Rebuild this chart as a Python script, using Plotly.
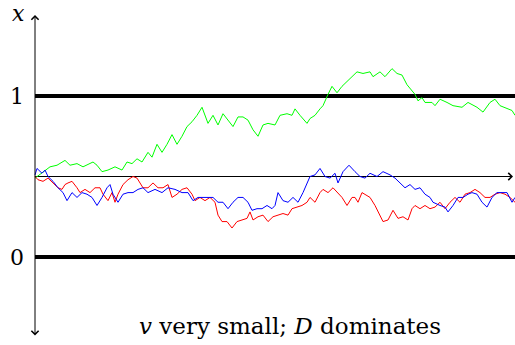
import plotly.graph_objects as go

# time steps and positions of three sample paths (v very small, diffusion dominates)
green_t = [0, 10, 15, 22, 30, 35, 42, 48, 58, 62, 67, 73, 80, 87, 92, 97, 102, 107, 113, 117,
           122, 127, 132, 137, 142, 147, 152, 157, 162, 167, 170, 173, 178, 183, 188, 193, 198,
           203, 208, 213, 218, 223, 228, 233, 240, 245, 252, 257, 260, 265, 270, 272, 275, 280,
           285, 288, 293, 297, 302, 307, 312, 318, 322, 328, 335, 338, 345, 350, 357, 362, 367,
           372, 375, 380, 383, 387, 390, 397, 400, 405, 412, 418, 427, 433, 442, 448, 455, 460,
           465, 472, 477, 480]
green_x = [0.49, 0.54, 0.56, 0.57, 0.60, 0.57, 0.58, 0.56, 0.59, 0.57, 0.53, 0.54, 0.56, 0.54,
           0.59, 0.58, 0.61, 0.59, 0.65, 0.62, 0.70, 0.65, 0.70, 0.76, 0.70, 0.75, 0.81, 0.84,
           0.88, 0.93, 0.88, 0.83, 0.88, 0.82, 0.89, 0.85, 0.81, 0.87, 0.87, 0.85, 0.79, 0.75,
           0.82, 0.83, 0.82, 0.88, 0.89, 0.88, 0.92, 0.88, 0.84, 0.83, 0.86, 0.88, 0.92, 0.94,
           1.01, 1.06, 1.02, 1.06, 1.09, 1.13, 1.15, 1.14, 1.15, 1.12, 1.15, 1.12, 1.17, 1.14,
           1.13, 1.07, 1.05, 1.01, 0.97, 0.99, 0.96, 0.96, 0.94, 0.98, 0.96, 0.94, 0.93, 0.96,
           0.93, 0.90, 0.96, 0.98, 0.94, 0.92, 0.91, 0.88]

blue_t = [0, 2, 7, 10, 13, 18, 23, 28, 32, 37, 42, 47, 52, 57, 62, 67, 72, 75, 78, 83, 88, 93,
          98, 103, 108, 113, 120, 127, 133, 140, 147, 153, 158, 163, 168, 173, 178, 183, 188,
          193, 198, 203, 208, 213, 217, 222, 227, 232, 237, 240, 243, 248, 253, 258, 263, 268,
          272, 275, 280, 285, 290, 295, 300, 303, 308, 314, 320, 325, 330, 335, 342, 348, 355,
          360, 365, 370, 375, 380, 385, 390, 395, 398, 405, 410, 413, 418, 423, 428, 433, 437,
          442, 447, 452, 457, 462, 467, 472, 477, 480]
blue_x = [0.51, 0.55, 0.52, 0.54, 0.50, 0.47, 0.43, 0.40, 0.35, 0.40, 0.37, 0.40, 0.39, 0.37,
          0.32, 0.37, 0.43, 0.45, 0.39, 0.34, 0.39, 0.40, 0.40, 0.42, 0.43, 0.40, 0.42, 0.40,
          0.43, 0.42, 0.40, 0.40, 0.35, 0.37, 0.37, 0.37, 0.37, 0.34, 0.34, 0.30, 0.34, 0.37,
          0.37, 0.34, 0.29, 0.30, 0.30, 0.32, 0.30, 0.32, 0.40, 0.35, 0.34, 0.37, 0.34, 0.40,
          0.46, 0.50, 0.51, 0.55, 0.50, 0.49, 0.52, 0.46, 0.53, 0.57, 0.53, 0.50, 0.49, 0.52,
          0.50, 0.53, 0.51, 0.49, 0.46, 0.43, 0.45, 0.42, 0.43, 0.39, 0.37, 0.34, 0.32, 0.31,
          0.28, 0.32, 0.37, 0.37, 0.39, 0.40, 0.39, 0.34, 0.31, 0.37, 0.40, 0.40, 0.40, 0.34,
          0.37]

red_t = [0, 3, 8, 13, 18, 23, 27, 30, 33, 37, 42, 45, 50, 55, 60, 65, 68, 73, 77, 80, 83, 88,
         93, 98, 102, 105, 108, 113, 118, 123, 128, 133, 137, 142, 147, 152, 157, 160, 165, 170,
         175, 180, 183, 187, 192, 197, 202, 207, 212, 215, 218, 223, 228, 233, 238, 243, 248,
         253, 257, 262, 267, 272, 275, 280, 285, 288, 293, 298, 303, 307, 312, 317, 320, 323,
         327, 330, 335, 340, 345, 348, 353, 358, 363, 368, 373, 377, 380, 385, 390, 395, 400,
         405, 410, 415, 420, 425, 430, 435, 440, 445, 450, 455, 460, 465, 470, 475, 480]
red_x = [0.50, 0.48, 0.47, 0.49, 0.46, 0.43, 0.42, 0.45, 0.46, 0.47, 0.43, 0.40, 0.42, 0.40,
         0.43, 0.43, 0.39, 0.35, 0.40, 0.34, 0.39, 0.45, 0.48, 0.50, 0.49, 0.46, 0.43, 0.43,
         0.46, 0.43, 0.43, 0.45, 0.37, 0.39, 0.42, 0.43, 0.39, 0.35, 0.37, 0.35, 0.37, 0.34,
         0.26, 0.22, 0.22, 0.18, 0.22, 0.23, 0.24, 0.28, 0.23, 0.25, 0.26, 0.22, 0.25, 0.26,
         0.27, 0.26, 0.30, 0.31, 0.32, 0.34, 0.37, 0.34, 0.40, 0.42, 0.40, 0.43, 0.40, 0.37,
         0.32, 0.37, 0.37, 0.34, 0.40, 0.39, 0.37, 0.32, 0.26, 0.22, 0.23, 0.29, 0.24, 0.25,
         0.23, 0.30, 0.32, 0.30, 0.32, 0.30, 0.31, 0.34, 0.30, 0.34, 0.37, 0.34, 0.39, 0.40,
         0.42, 0.40, 0.37, 0.37, 0.39, 0.40, 0.39, 0.37, 0.34]

t_end = 480
boundaries = [0, 1]
start_level = 0.5
y_labels = ["0", "1"]
caption = "<i>v</i> very small; <i>D</i> dominates"

serif = "DejaVu Serif"

fig = go.Figure()
for t, x, c in [(green_t, green_x, "#00ff00"), (red_t, red_x, "#ff0000"),
                (blue_t, blue_x, "#0000ff")]:
    fig.add_trace(go.Scatter(x=t, y=x, mode="lines", line=dict(color=c, width=1),
                             hoverinfo="skip", showlegend=False))

# absorbing boundaries at 0 and 1
for b in boundaries:
    fig.add_shape(type="line", x0=0, x1=t_end + 5, y0=b, y1=b, layer="below",
                  line=dict(color="black", width=4))

# reference level at the starting point, with an arrow to the right
fig.add_shape(type="line", x0=0, x1=t_end - 4, y0=start_level, y1=start_level, layer="below",
              line=dict(color="black", width=1))
fig.add_annotation(x=t_end - 2, y=start_level, ax=t_end - 14, ay=start_level,
                   xref="x", yref="y", axref="x", ayref="y", text="", showarrow=True,
                   arrowhead=4, arrowsize=1.4, arrowwidth=1, arrowcolor="black")

# vertical axis with arrows at both ends
fig.add_annotation(x=0, y=1.503, ax=0, ay=-0.497, xref="x", yref="y", axref="x", ayref="y",
                   text="", showarrow=True, arrowhead=4, startarrowhead=4, arrowside="end+start",
                   arrowsize=1.4, startarrowsize=1.4, arrowwidth=1, arrowcolor="black")

for b, lab in zip(boundaries, y_labels):
    fig.add_annotation(x=-18, y=b, text=lab, showarrow=False, xref="x", yref="y",
                       font=dict(family=serif, size=22, color="black"))
fig.add_annotation(x=-17, y=1.51, text="<i>x</i>", showarrow=False, xref="x", yref="y",
                   font=dict(family=serif, size=22, color="black"))
fig.add_annotation(x=255, y=-0.43, text=caption, showarrow=False, xref="x", yref="y",
                   font=dict(family=serif, size=23, color="black"))

fig.update_layout(
    width=515, height=345, margin=dict(l=0, r=0, t=0, b=0),
    paper_bgcolor="white", plot_bgcolor="white",
    xaxis=dict(range=[-35, 480], visible=False, fixedrange=True),
    yaxis=dict(range=[-88 / 161, 257 / 161], visible=False, fixedrange=True),
)

fig.write_html("out.html")
